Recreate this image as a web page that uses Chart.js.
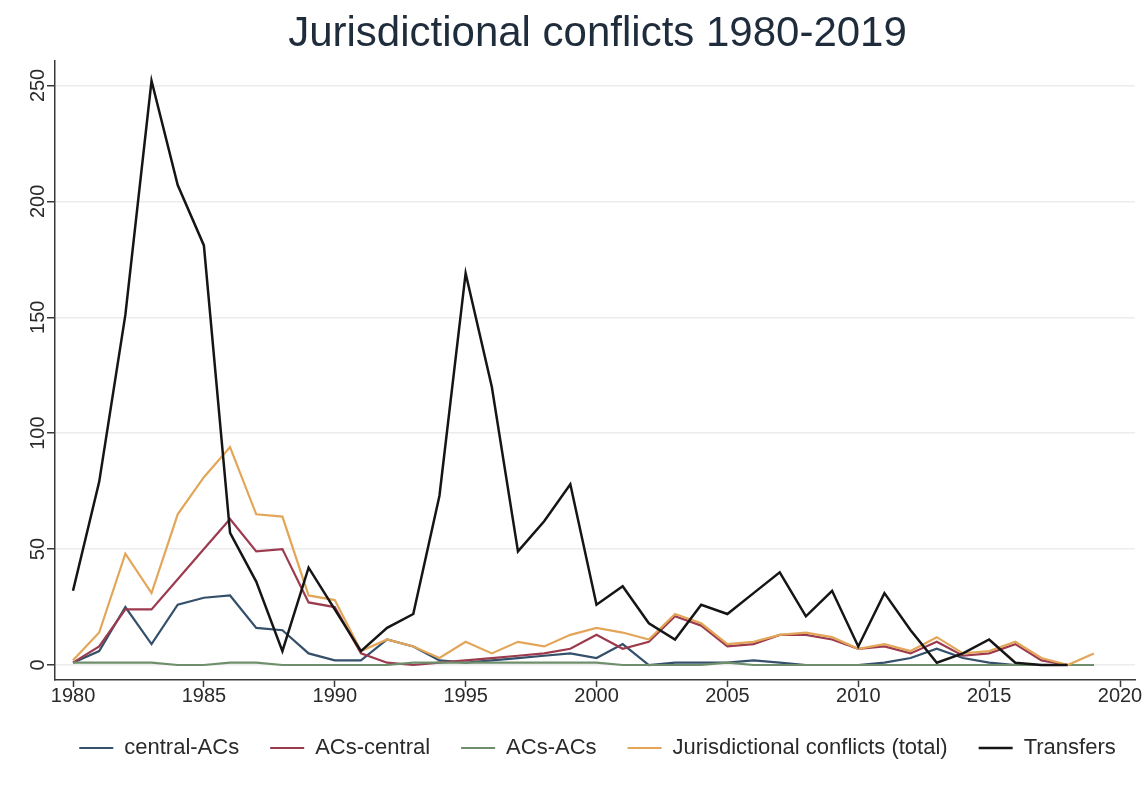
<!DOCTYPE html>
<html>
<head>
<meta charset="utf-8">
<script src="https://cdn.jsdelivr.net/npm/chart.js@4"></script>
<style>
  html, body { margin: 0; padding: 0; background: #ffffff; }
  #wrap { width: 1148px; height: 785px; position: relative; }
</style>
</head>
<body>
<div id="wrap"><canvas id="c"></canvas></div>
<script>
// ---- data ----
const years = [1980,1981,1982,1983,1984,1985,1986,1987,1988,1989,
               1990,1991,1992,1993,1994,1995,1996,1997,1998,1999,
               2000,2001,2002,2003,2004,2005,2006,2007,2008,2009,
               2010,2011,2012,2013,2014,2015,2016,2017,2018,2019];

const centralACs = [1,6,25,9,26,29,30,16,15,5,
                    2,2,11,8,2,1,2,3,4,5,
                    3,9,0,1,1,1,2,1,0,0,
                    0,1,3,7,3,1,0,0,0,0];

const acsCentral = [1,8,24,24,37,50,63,49,50,27,
                    25,5,1,0,1,2,3,4,5,7,
                    13,7,10,21,17,8,9,13,13,11,
                    7,8,5,10,4,5,9,2,0,0];

const acsACs = [1,1,1,1,0,0,1,1,0,0,
                0,0,0,1,1,1,1,1,1,1,
                1,0,0,0,0,1,0,0,0,0,
                0,0,0,0,0,0,0,0,0,0];

const totalConflicts = [2,14,48,31,65,81,94,65,64,30,
                        28,6,11,8,3,10,5,10,8,13,
                        16,14,11,22,18,9,10,13,14,12,
                        7,9,6,12,5,6,10,3,0,5];

const transfers = [32,79,151,252,207,181,57,36,6,42,
                   24,6,16,22,73,169,120,49,62,78,
                   26,34,18,11,26,22,31,40,21,32,
                   8,31,15,1,5,11,1,0,0,null];

const xTicks = [1980,1985,1990,1995,2000,2005,2010,2015,2020];
const yTicks = [0,50,100,150,200,250];

const seriesNames = ['central-ACs','ACs-central','ACs-ACs','Jurisdictional conflicts (total)','Transfers'];
const seriesColors = ['#34506a','#9c3a4e','#6f8f6c','#e3a659','#151515'];
const titleText = 'Jurisdictional conflicts 1980-2019';

// ---- build ----
function pts(arr) { return years.map((y, i) => ({x: y, y: arr[i]})); }
const allSeries = [centralACs, acsCentral, acsACs, totalConflicts, transfers];
const order = [4, 3, 2, 1, 0]; // draw order (lower = on top)
const datasets = allSeries.map((arr, i) => ({
  label: seriesNames[i],
  data: pts(arr),
  borderColor: seriesColors[i],
  backgroundColor: seriesColors[i],
  borderWidth: i === 4 ? 2.5 : 2.2,
  pointRadius: 0,
  pointHoverRadius: 0,
  tension: 0,
  spanGaps: false,
  order: order[i]
}));

const shiftPlugin = {
  id: 'shiftBoxes',
  afterLayout(chart) {
    const dx = 30;
    const t = chart.titleBlock;
    if (t) { t.left += dx; t.right += dx; }
    const lg = chart.legend;
    if (lg) {
      const pad = lg.options.labels.padding;
      const fs = lg.options.labels.font.size;
      const newTop = 748 - pad - fs / 2;
      const h = lg.bottom - lg.top;
      lg.top = newTop; lg.bottom = newTop + h;
      lg.left += dx; lg.right += dx;
    }
  }
};

const font = 'Liberation Sans, Arial, Helvetica, sans-serif';

new Chart(document.getElementById('c'), {
  type: 'line',
  data: { datasets },
  plugins: [shiftPlugin],
  options: {
    responsive: true,
    maintainAspectRatio: false,
    animation: false,
    events: [],
    layout: { padding: { left: 0, right: 13, top: 0, bottom: 0 } },
    plugins: {
      title: {
        display: true,
        text: titleText,
        color: '#1f2c3c',
        font: { family: font, size: 42, weight: 'normal', lineHeight: 1.2 },
        padding: { top: 9, bottom: 1 }
      },
      legend: {
        display: true,
        position: 'bottom',
        labels: {
          usePointStyle: true,
          pointStyle: 'line',
          pointStyleWidth: 34,
          padding: 31,
          color: '#2a2a2a',
          font: { family: font, size: 22 },
          sort: (a, b) => a.datasetIndex - b.datasetIndex
        }
      },
      tooltip: { enabled: false }
    },
    scales: {
      x: {
        type: 'linear',
        min: 1979.312,
        max: 2020.573,
        afterBuildTicks: (s) => { s.ticks = xTicks.map(v => ({value: v})); },
        afterFit: (s) => { s.height = 42; s.paddingLeft = 0; s.paddingRight = 0; },
        grid: {
          drawOnChartArea: false,
          drawTicks: true,
          tickLength: 7,
          tickColor: '#3a3a3a',
          tickWidth: 1.5
        },
        border: { display: true, color: '#3a3a3a', width: 1.5 },
        ticks: {
          autoSkip: false,
          maxRotation: 0,
          minRotation: 0,
          padding: -3,
          color: '#2a2a2a',
          font: { family: font, size: 20 },
          callback: (v) => String(v)
        }
      },
      y: {
        type: 'linear',
        min: -6.47,
        max: 260.8,
        afterBuildTicks: (s) => { s.ticks = yTicks.map(v => ({value: v})); },
        afterFit: (s) => { s.width = 55; s.paddingTop = 0; s.paddingBottom = 0; },
        grid: {
          drawOnChartArea: true,
          color: '#ececec',
          lineWidth: 1.5,
          drawTicks: true,
          tickLength: 8,
          tickColor: '#3a3a3a',
          tickWidth: 1.5
        },
        border: { display: true, color: '#3a3a3a', width: 1.5 },
        ticks: {
          autoSkip: false,
          minRotation: 90,
          maxRotation: 90,
          crossAlign: 'center',
          padding: -8,
          color: '#2a2a2a',
          font: { family: font, size: 20 },
          callback: (v) => String(v)
        }
      }
    }
  }
});
</script>
</body>
</html>
